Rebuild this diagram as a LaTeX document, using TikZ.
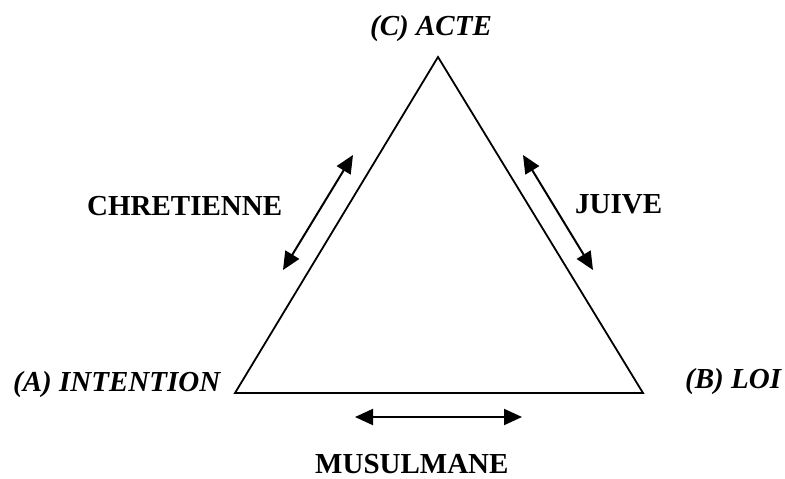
\documentclass[tikz,border=0pt]{standalone}
\usepackage{fontspec}
\setmainfont{Liberation Serif}
\usetikzlibrary{arrows.meta}
\begin{document}
\begin{tikzpicture}[x=1pt,y=-1pt,
  side/.style={line width=1.8pt, line join=miter},
  link/.style={line width=2pt, {Triangle[length=18pt,width=16pt]}-{Triangle[length=18pt,width=16pt]}},
  vlabel/.style={font=\fontsize{29}{32}\selectfont\bfseries\itshape, inner sep=0pt, anchor=base west},
  rlabel/.style={font=\fontsize{29}{32}\selectfont\bfseries, inner sep=0pt, anchor=base west}]
\useasboundingbox (0,0) rectangle (785,479);

% triangle vertices
\coordinate (C) at (438,57);
\coordinate (A) at (235,393);
\coordinate (B) at (643,393);
\draw[side] (A) -- (B) -- (C) -- cycle;

% double arrows beside the sides
\coordinate (l1) at (353,155);
\coordinate (l2) at (283,270);
\coordinate (r1) at (523,155);
\coordinate (r2) at (593,270);
\coordinate (b1) at (355,417);
\coordinate (b2) at (522,417);
\draw[link] (l1) -- (l2);
\draw[link] (r1) -- (r2);
\draw[link] (b1) -- (b2);

% labels
\node[vlabel] (lc) at (370,35) {(C) ACTE};
\node[vlabel] (la) at (13,391) {(A) INTENTION};
\node[vlabel] (lb) at (685,388) {(B) LOI};
\node[rlabel] (chr) at (87,215) {CHRETIENNE};
\node[rlabel] (jui) at (575,213) {JUIVE};
\node[rlabel] (mus) at (315,473) {MUSULMANE};
\end{tikzpicture}
\end{document}
